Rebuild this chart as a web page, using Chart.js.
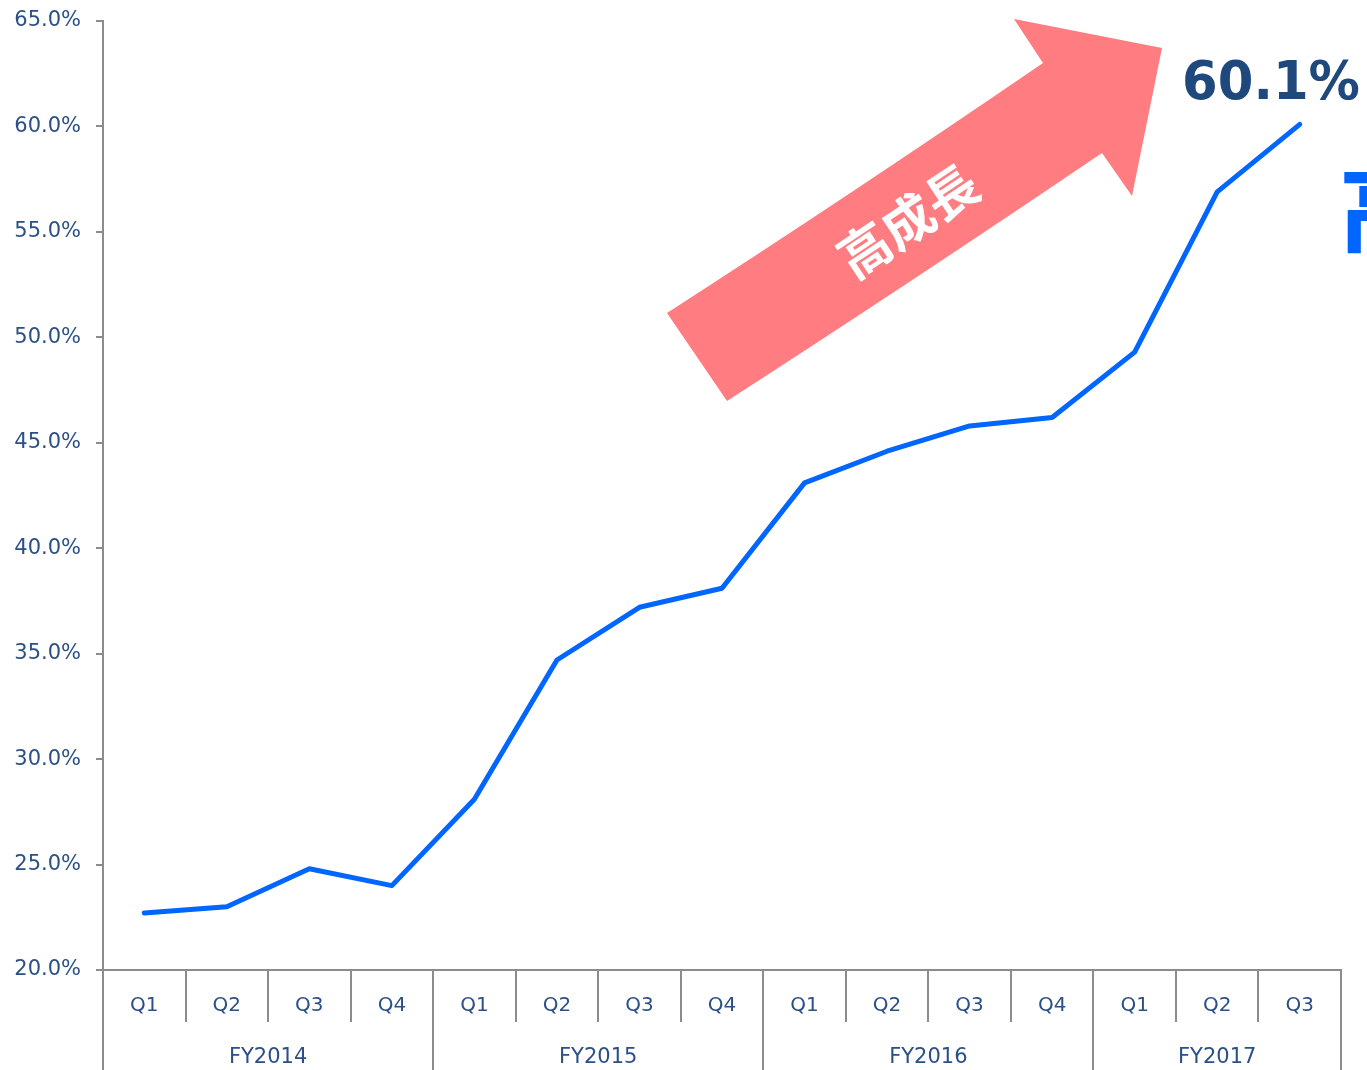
<!DOCTYPE html>
<html>
<head>
<meta charset="utf-8">
<script src="https://cdn.jsdelivr.net/npm/chart.js@4/dist/chart.umd.min.js"></script>
<style>
  html, body { margin: 0; padding: 0; background: #ffffff; }
  #wrap { width: 1367px; height: 1070px; position: relative; }
</style>
</head>
<body>
<div id="wrap"><canvas id="c" width="1367" height="1070"></canvas></div>
<script>
// ---- data ----
const quarters = ['Q1','Q2','Q3','Q4','Q1','Q2','Q3','Q4','Q1','Q2','Q3','Q4','Q1','Q2','Q3'];
const fiscalYears = ['FY2014','FY2015','FY2016','FY2017'];
const quartersPerYear = [4, 4, 4, 3];
const ratioValues = [22.7, 23.0, 24.8, 24.0, 28.1, 34.7, 37.2, 38.1, 43.1, 44.6, 45.8, 46.2, 49.3, 56.9, 60.1];
const yMin = 20, yMax = 65, yStep = 5;
const arrowText = '高成長';
const latestLabel = '60.1%';
const sideText = '高';

// ---- styles ----
const lineBlue = '#0066FF';
const axisGray = '#8C8C8C';
const labelBlue = '#2B5087';
const darkBlue = '#1F497D';
const arrowPink = '#FF7C80';

const decor = {
  id: 'decor',
  afterDraw(chart) {
    const { ctx, scales: { x }, chartArea } = chart;
    const n = quarters.length;
    const half = (x.getPixelForValue(1) - x.getPixelForValue(0)) / 2;
    const boundary = i => i < n ? x.getPixelForValue(i) - half : x.getPixelForValue(n - 1) + half;
    const yearBounds = [0];
    quartersPerYear.forEach(q => yearBounds.push(yearBounds[yearBounds.length - 1] + q));

    ctx.save();
    ctx.strokeStyle = axisGray;
    ctx.lineWidth = 2;
    for (let i = 0; i <= n; i++) {
      const px = Math.round(boundary(i));
      const isYear = yearBounds.includes(i);
      ctx.beginPath();
      ctx.moveTo(px, chartArea.bottom);
      ctx.lineTo(px, isYear ? chart.height : chartArea.bottom + 52);
      ctx.stroke();
    }
    // FY labels
    ctx.fillStyle = labelBlue;
    ctx.font = '21px "DejaVu Sans"';
    ctx.textAlign = 'center';
    ctx.textBaseline = 'alphabetic';
    for (let k = 0; k < fiscalYears.length; k++) {
      const cx = (boundary(yearBounds[k]) + boundary(yearBounds[k + 1])) / 2;
      ctx.fillText(fiscalYears[k], cx, 1063);
    }

    // Arrow
    ctx.fillStyle = arrowPink;
    ctx.beginPath();
    ctx.moveTo(667, 313);
    ctx.quadraticCurveTo(850, 195, 1043, 63);
    ctx.lineTo(1014, 19);
    ctx.lineTo(1162, 48);
    ctx.lineTo(1132, 196);
    ctx.lineTo(1102, 153);
    ctx.quadraticCurveTo(910, 283, 727, 401);
    ctx.closePath();
    ctx.fill();

    // Arrow text
    ctx.save();
    ctx.translate(908, 221);
    ctx.rotate(-33.6 * Math.PI / 180);
    ctx.fillStyle = '#ffffff';
    ctx.font = 'bold 52px "Noto Sans CJK JP"';
    ctx.textAlign = 'center';
    ctx.textBaseline = 'middle';
    ctx.fillText(arrowText, 0, 0);
    ctx.restore();

    // latest value label
    ctx.fillStyle = darkBlue;
    ctx.font = 'bold 54px "DejaVu Sans"';
    ctx.textAlign = 'left';
    ctx.textBaseline = 'alphabetic';
    ctx.fillText(latestLabel, 1182, 99, 178);

    // cut-off side text
    ctx.fillStyle = lineBlue;
    ctx.font = '900 92px "Noto Sans CJK JP"';
    ctx.textBaseline = 'top';
    ctx.fillText(sideText, 1339, 163);
    ctx.restore();
  }
};

new Chart(document.getElementById('c'), {
  type: 'line',
  data: {
    labels: quarters,
    datasets: [{
      data: ratioValues,
      borderColor: lineBlue,
      borderWidth: 5,
      borderCapStyle: 'round',
      borderJoinStyle: 'round',
      pointRadius: 0,
      tension: 0,
      fill: false
    }]
  },
  options: {
    responsive: false,
    animation: false,
    devicePixelRatio: 1,
    layout: { padding: { top: 21, right: 26, left: 0, bottom: 0 } },
    plugins: { legend: { display: false }, tooltip: { enabled: false } },
    scales: {
      x: {
        type: 'category',
        offset: true,
        grid: { display: false, drawTicks: false },
        border: { display: true, color: axisGray, width: 2 },
        ticks: {
          color: labelBlue,
          font: { family: 'DejaVu Sans', size: 20 },
          padding: 24,
          maxRotation: 0,
          autoSkip: false
        },
        afterFit(scale) { scale.height = 100; scale.paddingLeft = 0; scale.paddingRight = 0; }
      },
      y: {
        min: yMin,
        max: yMax,
        grid: { drawOnChartArea: false, drawTicks: true, tickLength: 7, color: axisGray, lineWidth: 2 },
        border: { display: true, color: axisGray, width: 2 },
        ticks: {
          stepSize: yStep,
          color: labelBlue,
          font: { family: 'DejaVu Sans', size: 21 },
          padding: 15,
          callback: v => v.toFixed(1) + '%'
        },
        afterFit(scale) { scale.width = 103; scale.paddingTop = 0; scale.paddingBottom = 0; }
      }
    }
  },
  plugins: [decor]
});
</script>
</body>
</html>
